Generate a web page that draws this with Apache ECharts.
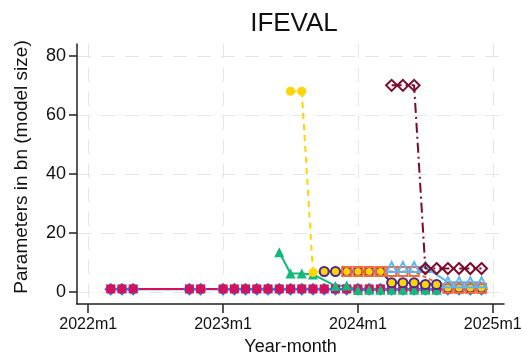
<!DOCTYPE html>
<html><head><meta charset="utf-8">
<script src="https://cdn.jsdelivr.net/npm/echarts@6/dist/echarts.min.js"></script>
<style>html,body{margin:0;padding:0;background:#fff}#c{width:522px;height:354px}</style>
</head><body><div id="c"></div>
<script>
// ---- data (months as Stata-style labels, values in bn parameters) ----
const xTickLabels = ["2022m1", "2023m1", "2024m1", "2025m1"];
const yTickValues = [0, 20, 40, 60, 80];

const blueMonths = ["2022m3","2022m4","2022m5","2022m10","2022m11","2023m1","2023m2","2023m3","2023m4","2023m5","2023m6","2023m7","2023m8","2023m9","2023m10","2023m11","2023m12","2024m1","2024m2","2024m3","2024m4","2024m5","2024m6","2024m7","2024m8","2024m9","2024m10","2024m11","2024m12"];
const blueValues = [1,1,1,1,1,1,1,1,1,1,1,1,1,1,1,1,1,1,1,1,1,1,1,1,1,1,1,1,1];

const pinkMonths = ["2022m3","2022m4","2022m5","2022m10","2022m11","2023m1","2023m2","2023m3","2023m4","2023m5","2023m6","2023m7","2023m8","2023m9","2023m10","2023m11","2023m12","2024m1","2024m2","2024m3","2024m4","2024m5","2024m6","2024m7","2024m8","2024m9","2024m10","2024m11","2024m12"];
const pinkValues = [1.1,1.1,1.1,1.1,1.1,1.1,1.1,1.1,1.1,1.1,1.1,1.1,1.1,1.1,1.1,1.1,1.1,1.1,1.1,1.1,1.1,1.1,1.1,1.1,1.1,1.1,1.1,1.1,1.1];

const greenMonths = ["2023m6","2023m7","2023m8","2023m9","2023m11","2023m12","2024m1","2024m2","2024m3","2024m4","2024m5","2024m6","2024m7","2024m8"];
const greenValues = [13.5,6.3,6.3,6,2.1,2.3,0.7,0.8,0.8,0.8,0.8,0.8,0.8,0.8];

const yellowMonths = ["2023m7","2023m8","2023m9","2023m10","2023m11","2023m12","2024m1","2024m2","2024m3","2024m4","2024m5","2024m6","2024m7","2024m8","2024m9","2024m10","2024m11","2024m12"];
const yellowValues = [68,68,6.7,7,7,7,7,7,7,3.2,3.2,3.2,2.6,2.6,1.3,1.3,1.3,1.3];

const purpleMonths = ["2023m10","2023m11","2023m12","2024m1","2024m2","2024m3","2024m4","2024m5","2024m6","2024m7","2024m8","2024m9","2024m10","2024m11","2024m12"];
const purpleValues = [7,7,7,7,7,7,3.2,3.2,3.2,2.6,2.6,1.4,1.4,1.4,1.4];

const orangeMonths = ["2023m12","2024m1","2024m2","2024m3","2024m4","2024m5","2024m6","2024m9","2024m10","2024m11","2024m12"];
const orangeValues = [7,7,7,7,7,7,7,1.3,1.3,1.3,1.3];

const lightBlueMonths = ["2024m4","2024m5","2024m6","2024m7","2024m9","2024m10","2024m11","2024m12"];
const lightBlueValues = [8.5,8.5,8.5,8.5,3.4,3.4,3.4,3.4];

const maroonMonths = ["2024m4","2024m5","2024m6","2024m7","2024m8","2024m9","2024m10","2024m11","2024m12"];
const maroonValues = [70,70,70,8,8,8,8,8,8];

// ---- helpers ----
function mIndex(s) { const p = s.split('m'); return (Number(p[0]) - 2022) * 12 + Number(p[1]) - 1; }
function mLabel(v) { return (2022 + Math.floor(v / 12)) + 'm' + ((v % 12) + 1); }
function pairs(months, vals) { return months.map((m, i) => [mIndex(m), vals[i]]); }

const FONT = '"Liberation Sans Narrow","Liberation Sans",Arial,sans-serif';
const xTicks = xTickLabels.map(mIndex);

function mk(name, months, vals, color, symbol, size, hollow, lineType) {
  return {
    name, type: 'line', data: pairs(months, vals),
    symbol, symbolSize: size, showAllSymbol: true,
    lineStyle: { color, width: 2, type: lineType || 'solid' },
    itemStyle: hollow ? { color: 'rgba(0,0,0,0)', borderColor: color, borderWidth: 2 } : { color, borderWidth: 0 },
    emphasis: { disabled: true }, animation: false
  };
}

const chart = echarts.init(document.getElementById('c'), null, { renderer: 'canvas' });
chart.setOption({
  backgroundColor: '#fff',
  animation: false,
  title: {
    text: 'IFEVAL', left: 289, top: 6, textAlign: 'center',
    textStyle: { fontFamily: '"Liberation Sans",Arial,sans-serif', fontSize: 26, fontWeight: 'normal', color: '#111' }
  },
  grid: { left: 77, right: 18, top: 44, bottom: 50, containLabel: false, outerBoundsMode: 'none' },
  xAxis: {
    type: 'value', min: -1, max: 37,
    name: 'Year-month', nameLocation: 'middle', nameGap: 34,
    nameTextStyle: { fontFamily: FONT, fontSize: 18, color: '#111' },
    axisLine: { show: true, onZero: false, lineStyle: { color: '#222', width: 1.5 } },
    axisTick: { show: true, customValues: xTicks, length: 9, lineStyle: { color: '#222', width: 1.5 } },
    axisLabel: { customValues: xTicks, formatter: v => mLabel(v), fontFamily: FONT, fontSize: 16, color: '#111', margin: 13 },
    splitLine: { show: true, lineStyle: { color: '#e6e6e6', width: 1, type: [14, 10] } }
  },
  yAxis: {
    type: 'value', min: -4, max: 84,
    name: 'Parameters in bn (model size)', nameLocation: 'middle', nameGap: 46,
    nameTextStyle: { fontFamily: FONT, fontSize: 19, color: '#111', padding: [0, 0, 0, 14] },
    axisLine: { show: true, onZero: false, lineStyle: { color: '#222', width: 1.5 } },
    axisTick: { show: true, customValues: yTickValues, length: 8, lineStyle: { color: '#222', width: 1.5 } },
    axisLabel: { customValues: yTickValues, fontFamily: FONT, fontSize: 18, color: '#111', margin: 11 },
    splitLine: { show: true, lineStyle: { color: '#e6e6e6', width: 1, type: [14, 10] } }
  },
  series: [
    mk('blue', blueMonths, blueValues, '#1a85ff', 'diamond', 13, false),
    mk('pink', pinkMonths, pinkValues, '#d41159', 'rect', 9, false),
    mk('green', greenMonths, greenValues, '#14b87c', 'triangle', 10, false),
    mk('yellow', yellowMonths, yellowValues, '#ffd400', 'circle', 9, false, [6, 5]),
    mk('purple', purpleMonths, purpleValues, '#4a2a8c', 'circle', 9, true),
    mk('orange', orangeMonths, orangeValues, '#f26b3a', 'rect', 9, true, [4, 3]),
    mk('lightblue', lightBlueMonths, lightBlueValues, '#5cb6f2', 'triangle', 10, true),
    mk('maroon', maroonMonths, maroonValues, '#7d0a2a', 'diamond', 11, true, [10, 4, 2, 4])
  ]
});
</script></body></html>
